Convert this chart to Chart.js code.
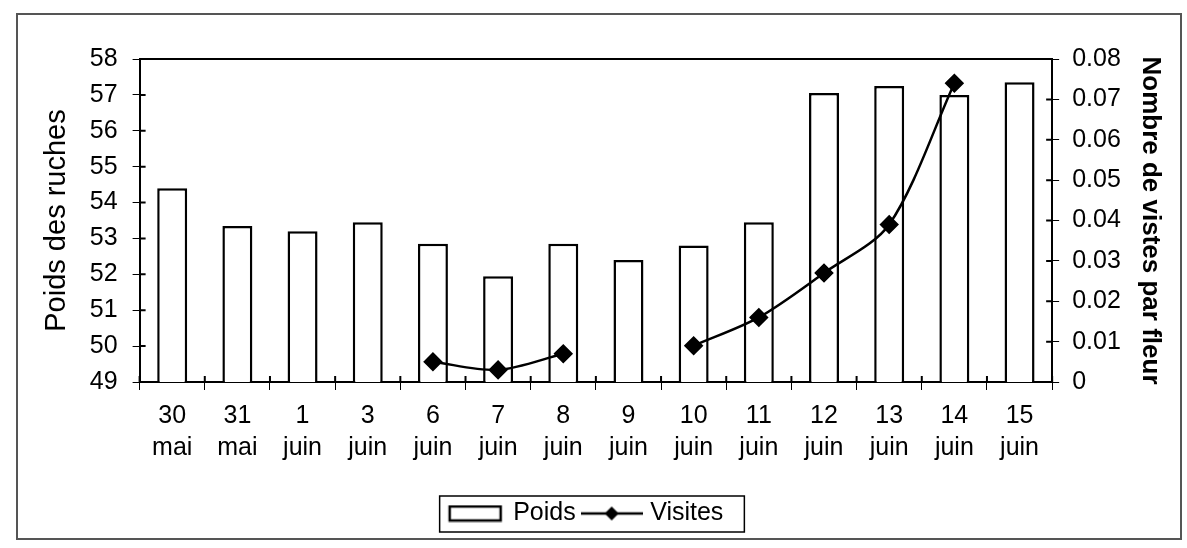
<!DOCTYPE html>
<html>
<head>
<meta charset="utf-8">
<script src="https://cdn.jsdelivr.net/npm/chart.js@4.4.1/dist/chart.umd.min.js"></script>
<style>
    html, body { margin: 0; padding: 0; background: #fff; }
    #frame { position: absolute; left: 16px; top: 13px; width: 1166px; height: 527px; border: 2px solid #555; box-sizing: border-box; }
    #chart { position: absolute; left: 0; top: 0; }
</style>
</head>
<body>
<div id="frame"></div>
<canvas id="chart" width="1187" height="548"></canvas>
<script>
// data
const dates = [['30', 'mai'], ['31', 'mai'], ['1', 'juin'], ['3', 'juin'], ['6', 'juin'], ['7', 'juin'], ['8', 'juin'],
    ['9', 'juin'], ['10', 'juin'], ['11', 'juin'], ['12', 'juin'], ['13', 'juin'], ['14', 'juin'], ['15', 'juin']];
const poids = [54.4, 53.35, 53.2, 53.45, 52.85, 51.95, 52.85, 52.4, 52.8, 53.45, 57.05, 57.25, 57.0, 57.35];
const visites = [null, null, null, null, 0.005, 0.003, 0.007, null, 0.009, 0.016, 0.027, 0.039, 0.074, null];
const poidsTicks = [49, 50, 51, 52, 53, 54, 55, 56, 57, 58];
const visitesTicks = [0, 0.01, 0.02, 0.03, 0.04, 0.05, 0.06, 0.07, 0.08];

Chart.defaults.font.family = "'Liberation Sans', Arial, sans-serif";
Chart.defaults.color = '#000';

// legend symbols, same look as the old excel legend
function barSymbol() {
    const c = document.createElement('canvas');
    c.width = 62; c.height = 18;
    const g = c.getContext('2d');
    g.fillStyle = '#fff';
    g.strokeStyle = '#000';
    g.lineWidth = 2.5;
    g.fillRect(6, 2, 51, 14);
    g.strokeRect(6, 2, 51, 14);
    return c;
}
function lineSymbol() {
    const c = document.createElement('canvas');
    c.width = 62; c.height = 18;
    const g = c.getContext('2d');
    g.strokeStyle = '#000';
    g.fillStyle = '#000';
    g.lineWidth = 2.5;
    g.beginPath(); g.moveTo(0, 9); g.lineTo(62, 9); g.stroke();
    g.beginPath(); g.moveTo(31, 2); g.lineTo(38, 9); g.lineTo(31, 16); g.lineTo(24, 9); g.closePath(); g.fill();
    return c;
}

const LEGEND_SHIFT = 16;

const frames = {
    id: 'frames',
    afterUpdate(chart) {
        // legend sits a bit left of centre in the original
        const lg = chart.legend;
        lg.left -= LEGEND_SHIFT;
        lg.right -= LEGEND_SHIFT;
        lg.legendHitBoxes.forEach(function(h) { h.left -= LEGEND_SHIFT; });
    },
    afterDraw(chart) {
        const ctx = chart.ctx;
        const a = chart.chartArea;
        ctx.save();
        ctx.strokeStyle = '#000';
        ctx.lineWidth = 2;
        ctx.beginPath();
        ctx.moveTo(a.left, a.top);
        ctx.lineTo(a.right, a.top);
        // inner half of the tick marks (they cross the axes)
        chart.scales.y.ticks.forEach(function(t) {
            const py = chart.scales.y.getPixelForValue(t.value);
            ctx.moveTo(a.left, py); ctx.lineTo(a.left + 6, py);
        });
        chart.scales.y1.ticks.forEach(function(t) {
            const py = chart.scales.y1.getPixelForValue(t.value);
            ctx.moveTo(a.right - 6, py); ctx.lineTo(a.right, py);
        });
        for (let i = 0; i <= dates.length; i++) {
            const px = chart.scales.x.getPixelForValue(i - 0.5);
            ctx.moveTo(px, a.bottom - 6); ctx.lineTo(px, a.bottom);
        }
        ctx.stroke();
        // box around the legend
        const boxes = chart.legend.legendHitBoxes;
        if (boxes && boxes.length) {
            let l = Infinity, r = -Infinity, t = Infinity, b = -Infinity;
            boxes.forEach(function(h) {
                l = Math.min(l, h.left); r = Math.max(r, h.left + h.width);
                t = Math.min(t, h.top); b = Math.max(b, h.top + h.height);
            });
            ctx.lineWidth = 1.5;
            ctx.strokeRect(l - 9, t - 5, r - l + 30, b - t + 11);
        }
        ctx.restore();
    }
};

new Chart(document.getElementById('chart').getContext('2d'), {
    type: 'bar',
    data: {
        labels: dates,
        datasets: [{
            label: 'Poids',
            data: poids,
            yAxisID: 'y',
            backgroundColor: '#fff',
            borderColor: '#000',
            borderWidth: 2.5,
            barPercentage: 0.92,
            categoryPercentage: 0.5,
            order: 2
        }, {
            type: 'line',
            label: 'Visites',
            data: visites,
            yAxisID: 'y1',
            borderColor: '#000',
            borderWidth: 2.5,
            backgroundColor: '#000',
            pointStyle: 'rectRot',
            pointRadius: 8,
            pointBackgroundColor: '#000',
            tension: 0.3,
            spanGaps: false,
            order: 1
        }]
    },
    options: {
        responsive: false,
        animation: false,
        layout: {
            padding: { left: 34, right: 17, top: 59, bottom: 12 }
        },
        plugins: {
            tooltip: { enabled: false },
            legend: {
                position: 'bottom',
                labels: {
                    usePointStyle: true,
                    pointStyleWidth: 52,
                    padding: 10,
                    font: { size: 25 },
                    generateLabels: function() {
                        return [
                            { text: 'Poids', pointStyle: barSymbol(), fillStyle: '#fff', strokeStyle: '#000', lineWidth: 0, datasetIndex: 0 },
                            { text: 'Visites', pointStyle: lineSymbol(), fillStyle: '#000', strokeStyle: '#000', lineWidth: 0, datasetIndex: 1 }
                        ];
                    }
                }
            }
        },
        scales: {
            x: {
                grid: { display: true, drawOnChartArea: false, offset: true, color: '#000', tickLength: 8 },
                border: { color: '#000', width: 2 },
                ticks: { font: { size: 25, lineHeight: 1.28 }, padding: 10, maxRotation: 0, autoSkip: false },
                afterFit: function(s) { s.height = 109; }
            },
            y: {
                position: 'left',
                min: poidsTicks[0],
                max: poidsTicks[poidsTicks.length - 1],
                afterBuildTicks: function(s) { s.ticks = poidsTicks.map(function(v) { return { value: v }; }); },
                grid: { drawOnChartArea: false, color: '#000', tickLength: 7 },
                border: { color: '#000', width: 2 },
                ticks: { font: { size: 25 }, padding: 15 },
                title: {
                    display: true,
                    text: 'Poids des ruches',
                    font: { size: 29 },
                    padding: { top: 6, bottom: 0 }
                }
            },
            y1: {
                position: 'right',
                min: visitesTicks[0],
                max: visitesTicks[visitesTicks.length - 1],
                afterBuildTicks: function(s) { s.ticks = visitesTicks.map(function(v) { return { value: v }; }); },
                grid: { drawOnChartArea: false, color: '#000', tickLength: 7 },
                border: { color: '#000', width: 2 },
                ticks: {
                    font: { size: 25 },
                    padding: 13,
                    callback: function(v) { return v === 0 ? '0' : v.toFixed(2); }
                },
                title: {
                    display: true,
                    text: 'Nombre de vistes par fleur',
                    font: { size: 26, weight: 'bold' },
                    padding: { top: 4, bottom: 1 }
                }
            }
        }
    },
    plugins: [frames]
});
</script>
</body>
</html>
